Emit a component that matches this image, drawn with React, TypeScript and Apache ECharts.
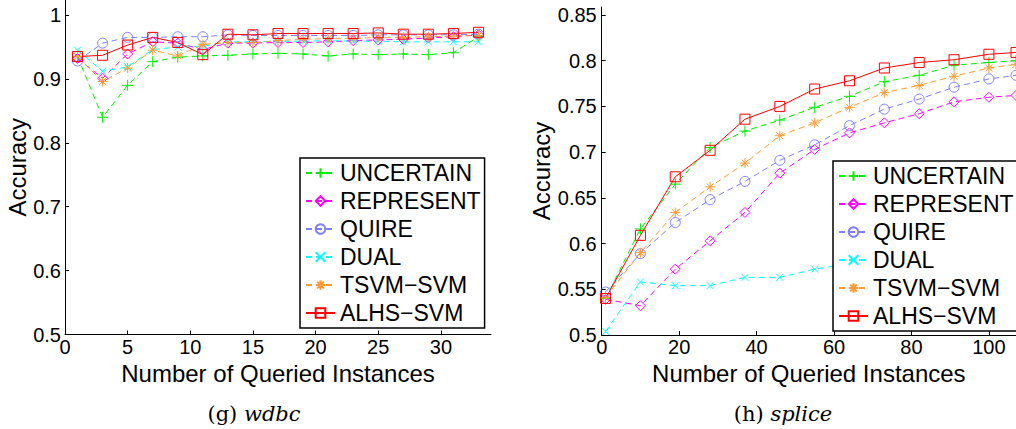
import React, { useEffect, useRef } from "react";
import * as echarts from "echarts";

// ---------- data ----------
const seriesNames = ["UNCERTAIN", "REPRESENT", "QUIRE", "DUAL", "TSVM\u2212SVM", "ALHS\u2212SVM"];

// (g) wdbc
const wdbcX = [1, 3, 5, 7, 9, 11, 13, 15, 17, 19, 21, 23, 25, 27, 29, 31, 33];
const wdbcUncertain = [0.935, 0.84, 0.89, 0.927, 0.934, 0.936, 0.937, 0.939, 0.94, 0.939, 0.936, 0.939, 0.938, 0.939, 0.938, 0.941, 0.966];
const wdbcRepresent = [0.932, 0.901, 0.939, 0.958, 0.956, 0.946, 0.956, 0.956, 0.957, 0.957, 0.958, 0.96, 0.961, 0.962, 0.964, 0.966, 0.969];
const wdbcQuire = [0.928, 0.956, 0.965, 0.965, 0.966, 0.966, 0.969, 0.968, 0.968, 0.968, 0.968, 0.968, 0.969, 0.969, 0.969, 0.969, 0.97];
const wdbcDual = [0.945, 0.912, 0.919, 0.946, 0.95, 0.951, 0.958, 0.958, 0.959, 0.959, 0.96, 0.959, 0.959, 0.958, 0.958, 0.958, 0.958];
const wdbcTsvm = [0.935, 0.896, 0.917, 0.945, 0.936, 0.954, 0.957, 0.957, 0.96, 0.962, 0.963, 0.963, 0.965, 0.965, 0.966, 0.967, 0.968];
const wdbcAlhs = [0.935, 0.937, 0.953, 0.965, 0.957, 0.938, 0.97, 0.969, 0.971, 0.971, 0.971, 0.971, 0.972, 0.97, 0.97, 0.971, 0.973];

// (h) splice
const spliceX = [1, 10, 19, 28, 37, 46, 55, 64, 73, 82, 91, 100, 107];
const spliceUncertain = [0.54, 0.616, 0.665, 0.705, 0.723, 0.735, 0.749, 0.761, 0.777, 0.784, 0.795, 0.798, 0.8];
const spliceRepresent = [0.539, 0.532, 0.572, 0.603, 0.634, 0.677, 0.703, 0.721, 0.732, 0.742, 0.755, 0.76, 0.762];
const spliceQuire = [0.547, 0.589, 0.623, 0.648, 0.668, 0.691, 0.708, 0.729, 0.747, 0.758, 0.771, 0.78, 0.784];
const spliceDual = [0.504, 0.558, 0.554, 0.554, 0.563, 0.563, 0.572, 0.578, 0.582, 0.586, 0.589, 0.591, 0.594];
const spliceTsvm = [0.541, 0.59, 0.634, 0.662, 0.688, 0.718, 0.732, 0.749, 0.765, 0.773, 0.783, 0.792, 0.796];
const spliceAlhs = [0.54, 0.609, 0.673, 0.702, 0.736, 0.75, 0.769, 0.778, 0.792, 0.798, 0.801, 0.807, 0.809];

// ticks
const wdbcXTicks = [0, 5, 10, 15, 20, 25, 30];
const wdbcYTicks = [0.5, 0.6, 0.7, 0.8, 0.9, 1];
const spliceXTicks = [0, 20, 40, 60, 80, 100];
const spliceYTicks = [0.5, 0.55, 0.6, 0.65, 0.7, 0.75, 0.8, 0.85];

// ---------- styles ----------
const colors = ["#00ee00", "#ff00ff", "#7f7fff", "#00ffff", "#ff9933", "#ff0000"];
const symbols = [
  "path://M5,0L5,10M0,5L10,5",
  "diamond",
  "circle",
  "path://M0,0L10,10M10,0L0,10",
  "path://M5,0L5,10M0,5L10,5M1.5,1.5L8.5,8.5M8.5,1.5L1.5,8.5",
  "rect",
];
const symbolSizes = [11, 10, 10, 7, 10, 10];
const dashed = [true, true, true, true, true, false];

const FONT = "Liberation Sans, Arial, Helvetica, sans-serif";

function pairs(xs: number[], ys: number[]) {
  return xs.map((x, i) => [x, ys[i]]);
}

function makeSeries(xs: number[], lists: number[][], idx: number) {
  return lists.map((ys, i) => ({
    type: "line",
    name: seriesNames[i],
    xAxisIndex: idx,
    yAxisIndex: idx,
    data: pairs(xs, ys),
    symbol: symbols[i],
    symbolSize: symbolSizes[i],
    showAllSymbol: true,
    clip: false,
    lineStyle: {
      color: colors[i],
      width: 1,
      type: dashed[i] ? [6, 4] : "solid",
    },
    itemStyle: {
      color: "rgba(255,255,255,0)",
      borderColor: colors[i],
      borderWidth: 1,
    },
    emphasis: { disabled: true },
  }));
}

function axisCommon() {
  return {
    axisLine: { show: true, onZero: false, lineStyle: { color: "#000", width: 1 } },
    axisTick: { show: true, inside: true, length: 4, lineStyle: { color: "#000" } },
    splitLine: { show: false },
    nameTextStyle: { fontFamily: FONT, fontSize: 24, color: "#000" },
  };
}

function legendCfg(left: number, top: number) {
  return {
    left,
    top,
    orient: "vertical",
    data: seriesNames,
    itemWidth: 29,
    itemHeight: 12,
    itemGap: 4,
    padding: [3, 4, 3, 5],
    backgroundColor: "#fff",
    borderColor: "#000",
    borderWidth: 1.5,
    borderRadius: 0,
    selectedMode: false,
    textStyle: { fontFamily: FONT, fontSize: 23, lineHeight: 24, color: "#000" },
  };
}

const captionRich = {
  a: { fontFamily: "DejaVu Serif, serif", fontSize: 21, fill: "#000" },
  b: { fontFamily: "DejaVu Serif, serif", fontSize: 21, fontStyle: "italic", fill: "#000" },
};

export default function App() {
  const ref = useRef<HTMLDivElement>(null);
  useEffect(() => {
    if (!ref.current) return;
    const chart = echarts.init(ref.current, null, { renderer: "svg" });
    const ac = axisCommon();
    chart.setOption({
      animation: false,
      backgroundColor: "#fff",
      grid: [
        { left: 65, top: 0, width: 426, height: 334.5 },
        { left: 601.7, top: 7, width: 414.3, height: 328 },
      ],
      xAxis: [
        {
          ...ac,
          type: "value",
          gridIndex: 0,
          min: 0,
          max: 34,
          name: "Number of Queried Instances",
          nameLocation: "middle",
          nameGap: 19,
          axisTick: { ...ac.axisTick, customValues: wdbcXTicks },
          axisLabel: { customValues: wdbcXTicks, fontFamily: FONT, fontSize: 20, color: "#000", margin: 2 },
        },
        {
          ...ac,
          type: "value",
          gridIndex: 1,
          min: 0,
          max: 107,
          name: "Number of Queried Instances",
          nameLocation: "middle",
          nameGap: 19,
          axisTick: { ...ac.axisTick, customValues: spliceXTicks },
          axisLabel: { customValues: spliceXTicks, fontFamily: FONT, fontSize: 20, color: "#000", margin: 2 },
        },
      ],
      yAxis: [
        {
          ...ac,
          type: "value",
          gridIndex: 0,
          min: 0.5,
          max: 1.0235,
          name: "Accuracy",
          nameLocation: "middle",
          nameGap: 34,
          axisTick: { ...ac.axisTick, customValues: wdbcYTicks },
          axisLabel: { customValues: wdbcYTicks, fontFamily: FONT, fontSize: 20, color: "#000", margin: 4 },
        },
        {
          ...ac,
          type: "value",
          gridIndex: 1,
          min: 0.5,
          max: 0.8587,
          name: "Accuracy",
          nameLocation: "middle",
          nameGap: 44,
          axisTick: { ...ac.axisTick, customValues: spliceYTicks },
          axisLabel: { customValues: spliceYTicks, fontFamily: FONT, fontSize: 20, color: "#000", margin: 5 },
        },
      ],
      legend: [legendCfg(300, 158), legendCfg(833, 161)],
      series: [
        ...makeSeries(wdbcX, [wdbcUncertain, wdbcRepresent, wdbcQuire, wdbcDual, wdbcTsvm, wdbcAlhs], 0),
        ...makeSeries(spliceX, [spliceUncertain, spliceRepresent, spliceQuire, spliceDual, spliceTsvm, spliceAlhs], 1),
      ],
      graphic: [
        {
          type: "text",
          x: 254,
          y: 414,
          style: {
            text: "{a|(g)}  {b|wdbc}",
            align: "center",
            verticalAlign: "middle",
            fill: "#000",
            rich: captionRich,
          },
        },
        {
          type: "text",
          x: 783,
          y: 414,
          style: {
            text: "{a|(h)}  {b|splice}",
            align: "center",
            verticalAlign: "middle",
            fill: "#000",
            rich: captionRich,
          },
        },
      ],
    });
    return () => chart.dispose();
  }, []);
  return (
    <div
      ref={ref}
      style={{ position: "fixed", left: 0, top: 0, width: 1016, height: 429, background: "#fff" }}
    />
  );
}
